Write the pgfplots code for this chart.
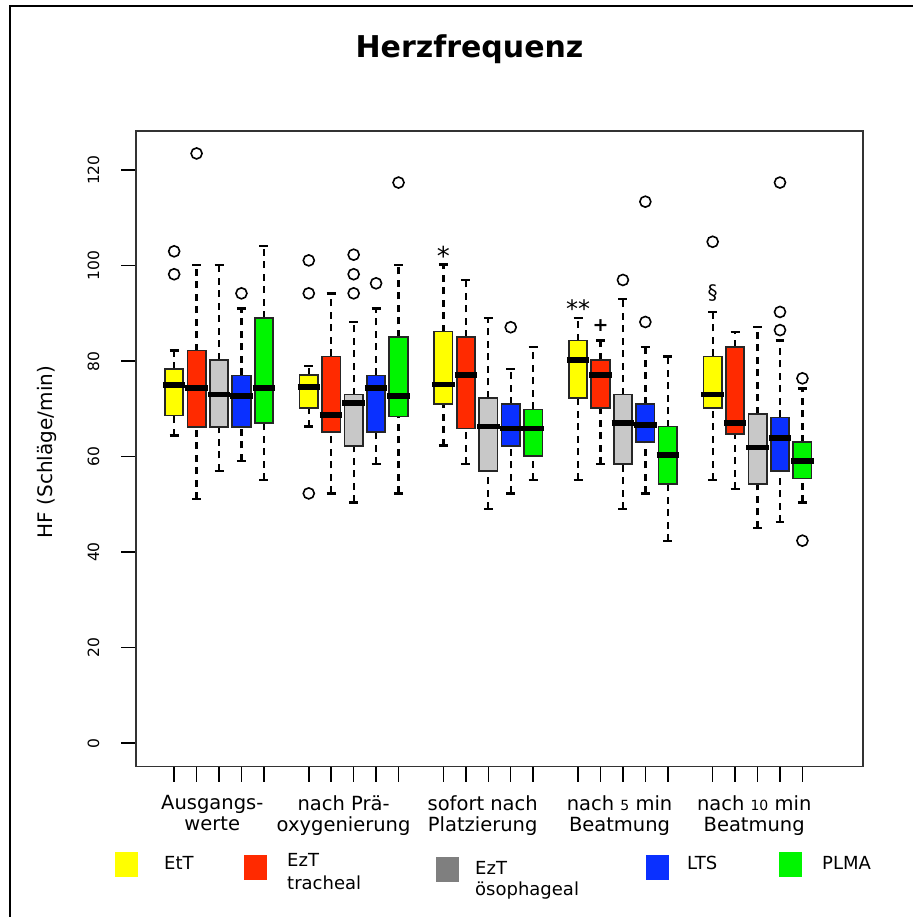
\documentclass[border=0pt]{standalone}
\usepackage{fontspec}
\setmainfont{DejaVu Sans}
\usepackage{pgfplots}
\pgfplotsset{compat=1.18}
\definecolor{cyel}{HTML}{FFFF00}
\definecolor{cred}{HTML}{FF2A00}
\definecolor{cgray}{HTML}{C8C8C8}
\definecolor{cgraydark}{HTML}{7F7F7F}
\definecolor{cblue}{HTML}{0A30FF}
\definecolor{cgreen}{HTML}{00F500}
\definecolor{frame}{HTML}{333333}
\pgfplotsset{
  whisk/.style={black, line width=2.3pt, dash pattern=on 7pt off 5.5pt, no markers},
  cap/.style={black, line width=2.4pt, no markers},
  bx/.style={fill=#1, draw=black!85, line width=1.7pt, line join=miter, line cap=rect, no markers},
  med/.style={black, line width=5.8pt, no markers},
  outl/.style={only marks, mark=o, mark size=5.5pt, mark options={black, line width=1.6pt}},
}
\begin{document}
\begin{tikzpicture}[x=1pt,y=1pt]
\path[use as bounding box] (0,0) rectangle (913,-917);
\draw[line width=2pt] (10,-917) -- (10,-6) -- (913,-6);
\node[font=\bfseries\fontsize{30}{36}\selectfont, anchor=base] at (469.5,-58) {Herzfrequenz};
\node[rotate=90, font=\fontsize{20}{20}\selectfont] at (47,-452) {HF (Schläge/min)};
\begin{axis}[
  at={(136pt,-766.7pt)}, anchor=south west,
  scale only axis, width=727pt, height=635.7pt,
  xmin=-0.7, xmax=31.7, ymin=-4.94, ymax=128.2,
  unbounded coords=jump,
  axis line style={draw=frame, line width=1.5pt},
  tick style={black, line width=1.5pt},
  tick align=outside, major tick length=15pt,
  tick pos=left,
  xtick={1,2,3,4,5,7,8,9,10,11,13,14,15,16,17,19,20,21,22,23,25,26,27,28,29},
  xticklabels={},
  ytick={0,20,40,60,80,100,120},
  /pgf/number format/assume math mode=true,
  yticklabel style={xshift=-18pt, rotate=90, anchor=south, font=\fontsize{15.5}{15.5}\selectfont},
  extra x ticks={2.7,8.55,14.75,20.85,26.85},
  extra x tick labels={{Ausgangs-\\werte},{nach Prä-\\oxygenierung},{sofort nach\\Platzierung},{nach {\fontsize{14}{14}\selectfont 5} min\\Beatmung},{nach {\fontsize{14}{14}\selectfont 10} min\\Beatmung}},
  extra x tick style={major tick length=0pt, xticklabel style={align=center, font=\fontsize{19.5}{21.5}\selectfont, yshift=-25pt}},
  clip=false,
]
% ===== Group 1: Ausgangswerte =====
% EtT
\addplot[whisk] coordinates {(1,64.4)(1,68.6)(1,nan)(1,78.3)(1,82.2)};
\addplot[cap] coordinates {(0.8,64.4)(1.2,64.4)(1,nan)(0.8,82.2)(1.2,82.2)};
\addplot[bx=cyel] coordinates {(0.59,68.6)(1.41,68.6)(1.41,78.3)(0.59,78.3)(0.59,68.6)};
\addplot[med] coordinates {(0.5,75.0)(1.5,75.0)};
\addplot[outl] coordinates {(1,103.0)(1,98.2)};
% EzT tracheal
\addplot[whisk] coordinates {(2,51.1)(2,66.2)(2,nan)(2,82.2)(2,100.1)};
\addplot[cap] coordinates {(1.8,51.1)(2.2,51.1)(2,nan)(1.8,100.1)(2.2,100.1)};
\addplot[bx=cred] coordinates {(1.59,66.2)(2.41,66.2)(2.41,82.2)(1.59,82.2)(1.59,66.2)};
\addplot[med] coordinates {(1.5,74.3)(2.5,74.3)};
\addplot[outl] coordinates {(2,123.5)};
% EzT oesophageal
\addplot[whisk] coordinates {(3,57.0)(3,66.2)(3,nan)(3,80.3)(3,100.1)};
\addplot[cap] coordinates {(2.8,57.0)(3.2,57.0)(3,nan)(2.8,100.1)(3.2,100.1)};
\addplot[bx=cgray] coordinates {(2.59,66.2)(3.41,66.2)(3.41,80.3)(2.59,80.3)(2.59,66.2)};
\addplot[med] coordinates {(2.5,73.0)(3.5,73.0)};
% LTS
\addplot[whisk] coordinates {(4,59.1)(4,66.2)(4,nan)(4,77.0)(4,91.0)};
\addplot[cap] coordinates {(3.8,59.1)(4.2,59.1)(4,nan)(3.8,91.0)(4.2,91.0)};
\addplot[bx=cblue] coordinates {(3.59,66.2)(4.41,66.2)(4.41,77.0)(3.59,77.0)(3.59,66.2)};
\addplot[med] coordinates {(3.5,72.7)(4.5,72.7)};
\addplot[outl] coordinates {(4,94.2)};
% PLMA
\addplot[whisk] coordinates {(5,55.1)(5,67.0)(5,nan)(5,89.0)(5,104.1)};
\addplot[cap] coordinates {(4.8,55.1)(5.2,55.1)(5,nan)(4.8,104.1)(5.2,104.1)};
\addplot[bx=cgreen] coordinates {(4.59,67.0)(5.41,67.0)(5.41,89.0)(4.59,89.0)(4.59,67.0)};
\addplot[med] coordinates {(4.5,74.3)(5.5,74.3)};
% ===== Group 2: nach Praeoxygenierung =====
\addplot[whisk] coordinates {(7,66.3)(7,70.2)(7,nan)(7,77.1)(7,79.0)};
\addplot[cap] coordinates {(6.8,66.3)(7.2,66.3)(7,nan)(6.8,79.0)(7.2,79.0)};
\addplot[bx=cyel] coordinates {(6.59,70.2)(7.41,70.2)(7.41,77.1)(6.59,77.1)(6.59,70.2)};
\addplot[med] coordinates {(6.5,74.6)(7.5,74.6)};
\addplot[outl] coordinates {(7,101.1)(7,94.2)(7,52.3)};
\addplot[whisk] coordinates {(8,52.3)(8,65.1)(8,nan)(8,81.0)(8,94.2)};
\addplot[cap] coordinates {(7.8,52.3)(8.2,52.3)(8,nan)(7.8,94.2)(8.2,94.2)};
\addplot[bx=cred] coordinates {(7.59,65.1)(8.41,65.1)(8.41,81.0)(7.59,81.0)(7.59,65.1)};
\addplot[med] coordinates {(7.5,68.7)(8.5,68.7)};
\addplot[whisk] coordinates {(9,50.4)(9,62.3)(9,nan)(9,73.0)(9,88.2)};
\addplot[cap] coordinates {(8.8,50.4)(9.2,50.4)(9,nan)(8.8,88.2)(9.2,88.2)};
\addplot[bx=cgray] coordinates {(8.59,62.3)(9.41,62.3)(9.41,73.0)(8.59,73.0)(8.59,62.3)};
\addplot[med] coordinates {(8.5,71.3)(9.5,71.3)};
\addplot[outl] coordinates {(9,102.3)(9,98.2)(9,94.2)};
\addplot[whisk] coordinates {(10,58.4)(10,65.1)(10,nan)(10,77.0)(10,91.0)};
\addplot[cap] coordinates {(9.8,58.4)(10.2,58.4)(10,nan)(9.8,91.0)(10.2,91.0)};
\addplot[bx=cblue] coordinates {(9.59,65.1)(10.41,65.1)(10.41,77.0)(9.59,77.0)(9.59,65.1)};
\addplot[med] coordinates {(9.5,74.3)(10.5,74.3)};
\addplot[outl] coordinates {(10,96.3)};
\addplot[whisk] coordinates {(11,52.3)(11,68.4)(11,nan)(11,85.1)(11,100.1)};
\addplot[cap] coordinates {(10.8,52.3)(11.2,52.3)(11,nan)(10.8,100.1)(11.2,100.1)};
\addplot[bx=cgreen] coordinates {(10.59,68.4)(11.41,68.4)(11.41,85.1)(10.59,85.1)(10.59,68.4)};
\addplot[med] coordinates {(10.5,72.7)(11.5,72.7)};
\addplot[outl] coordinates {(11,117.4)};
% ===== Group 3: sofort nach Platzierung =====
\addplot[whisk] coordinates {(13,62.3)(13,71.0)(13,nan)(13,86.2)(13,100.2)};
\addplot[cap] coordinates {(12.8,62.3)(13.2,62.3)(13,nan)(12.8,100.2)(13.2,100.2)};
\addplot[bx=cyel] coordinates {(12.59,71.0)(13.41,71.0)(13.41,86.2)(12.59,86.2)(12.59,71.0)};
\addplot[med] coordinates {(12.5,75.1)(13.5,75.1)};
\addplot[whisk] coordinates {(14,58.4)(14,65.9)(14,nan)(14,85.0)(14,97.0)};
\addplot[cap] coordinates {(13.8,58.4)(14.2,58.4)(14,nan)(13.8,97.0)(14.2,97.0)};
\addplot[bx=cred] coordinates {(13.59,65.9)(14.41,65.9)(14.41,85.0)(13.59,85.0)(13.59,65.9)};
\addplot[med] coordinates {(13.5,77.1)(14.5,77.1)};
\addplot[whisk] coordinates {(15,49.0)(15,57.0)(15,nan)(15,72.3)(15,89.0)};
\addplot[cap] coordinates {(14.8,49.0)(15.2,49.0)(15,nan)(14.8,89.0)(15.2,89.0)};
\addplot[bx=cgray] coordinates {(14.59,57.0)(15.41,57.0)(15.41,72.3)(14.59,72.3)(14.59,57.0)};
\addplot[med] coordinates {(14.5,66.3)(15.5,66.3)};
\addplot[whisk] coordinates {(16,52.3)(16,62.3)(16,nan)(16,71.0)(16,78.3)};
\addplot[cap] coordinates {(15.8,52.3)(16.2,52.3)(16,nan)(15.8,78.3)(16.2,78.3)};
\addplot[bx=cblue] coordinates {(15.59,62.3)(16.41,62.3)(16.41,71.0)(15.59,71.0)(15.59,62.3)};
\addplot[med] coordinates {(15.5,65.9)(16.5,65.9)};
\addplot[outl] coordinates {(16,87.1)};
\addplot[whisk] coordinates {(17,55.1)(17,60.2)(17,nan)(17,69.9)(17,83.0)};
\addplot[cap] coordinates {(16.8,55.1)(17.2,55.1)(17,nan)(16.8,83.0)(17.2,83.0)};
\addplot[bx=cgreen] coordinates {(16.59,60.2)(17.41,60.2)(17.41,69.9)(16.59,69.9)(16.59,60.2)};
\addplot[med] coordinates {(16.5,65.9)(17.5,65.9)};
% ===== Group 4: nach 5 min Beatmung =====
\addplot[whisk] coordinates {(19,55.1)(19,72.3)(19,nan)(19,84.3)(19,89.0)};
\addplot[cap] coordinates {(18.8,55.1)(19.2,55.1)(19,nan)(18.8,89.0)(19.2,89.0)};
\addplot[bx=cyel] coordinates {(18.59,72.3)(19.41,72.3)(19.41,84.3)(18.59,84.3)(18.59,72.3)};
\addplot[med] coordinates {(18.5,80.2)(19.5,80.2)};
\addplot[whisk] coordinates {(20,58.4)(20,70.2)(20,nan)(20,80.3)(20,84.3)};
\addplot[cap] coordinates {(19.8,58.4)(20.2,58.4)(20,nan)(19.8,84.3)(20.2,84.3)};
\addplot[bx=cred] coordinates {(19.59,70.2)(20.41,70.2)(20.41,80.3)(19.59,80.3)(19.59,70.2)};
\addplot[med] coordinates {(19.5,77.1)(20.5,77.1)};
\addplot[whisk] coordinates {(21,49.0)(21,58.4)(21,nan)(21,73.0)(21,93.0)};
\addplot[cap] coordinates {(20.8,49.0)(21.2,49.0)(21,nan)(20.8,93.0)(21.2,93.0)};
\addplot[bx=cgray] coordinates {(20.59,58.4)(21.41,58.4)(21.41,73.0)(20.59,73.0)(20.59,58.4)};
\addplot[med] coordinates {(20.5,67.1)(21.5,67.1)};
\addplot[outl] coordinates {(21,97.0)};
\addplot[whisk] coordinates {(22,52.3)(22,63.1)(22,nan)(22,71.0)(22,83.0)};
\addplot[cap] coordinates {(21.8,52.3)(22.2,52.3)(22,nan)(21.8,83.0)(22.2,83.0)};
\addplot[bx=cblue] coordinates {(21.59,63.1)(22.41,63.1)(22.41,71.0)(21.59,71.0)(21.59,63.1)};
\addplot[med] coordinates {(21.5,66.7)(22.5,66.7)};
\addplot[outl] coordinates {(22,88.2)(22,113.4)};
\addplot[whisk] coordinates {(23,42.3)(23,54.2)(23,nan)(23,66.3)(23,81.0)};
\addplot[cap] coordinates {(22.8,42.3)(23.2,42.3)(23,nan)(22.8,81.0)(23.2,81.0)};
\addplot[bx=cgreen] coordinates {(22.59,54.2)(23.41,54.2)(23.41,66.3)(22.59,66.3)(22.59,54.2)};
\addplot[med] coordinates {(22.5,60.3)(23.5,60.3)};
% ===== Group 5: nach 10 min Beatmung =====
\addplot[whisk] coordinates {(25,55.1)(25,70.2)(25,nan)(25,81.0)(25,90.3)};
\addplot[cap] coordinates {(24.8,55.1)(25.2,55.1)(25,nan)(24.8,90.3)(25.2,90.3)};
\addplot[bx=cyel] coordinates {(24.59,70.2)(25.41,70.2)(25.41,81.0)(24.59,81.0)(24.59,70.2)};
\addplot[med] coordinates {(24.5,73.0)(25.5,73.0)};
\addplot[outl] coordinates {(25,105.0)};
\addplot[whisk] coordinates {(26,53.2)(26,64.7)(26,nan)(26,83.0)(26,86.1)};
\addplot[cap] coordinates {(25.8,53.2)(26.2,53.2)(26,nan)(25.8,86.1)(26.2,86.1)};
\addplot[bx=cred] coordinates {(25.59,64.7)(26.41,64.7)(26.41,83.0)(25.59,83.0)(25.59,64.7)};
\addplot[med] coordinates {(25.5,67.1)(26.5,67.1)};
\addplot[whisk] coordinates {(27,45.1)(27,54.2)(27,nan)(27,69.0)(27,87.1)};
\addplot[cap] coordinates {(26.8,45.1)(27.2,45.1)(27,nan)(26.8,87.1)(27.2,87.1)};
\addplot[bx=cgray] coordinates {(26.59,54.2)(27.41,54.2)(27.41,69.0)(26.59,69.0)(26.59,54.2)};
\addplot[med] coordinates {(26.5,61.9)(27.5,61.9)};
\addplot[whisk] coordinates {(28,46.3)(28,57.0)(28,nan)(28,68.2)(28,84.3)};
\addplot[cap] coordinates {(27.8,46.3)(28.2,46.3)(28,nan)(27.8,84.3)(28.2,84.3)};
\addplot[bx=cblue] coordinates {(27.59,57.0)(28.41,57.0)(28.41,68.2)(27.59,68.2)(27.59,57.0)};
\addplot[med] coordinates {(27.5,63.9)(28.5,63.9)};
\addplot[outl] coordinates {(28,86.5)(28,90.3)(28,117.4)};
\addplot[whisk] coordinates {(29,50.4)(29,55.4)(29,nan)(29,63.0)(29,74.3)};
\addplot[cap] coordinates {(28.8,50.4)(29.2,50.4)(29,nan)(28.8,74.3)(29.2,74.3)};
\addplot[bx=cgreen] coordinates {(28.59,55.4)(29.41,55.4)(29.41,63.0)(28.59,63.0)(28.59,55.4)};
\addplot[med] coordinates {(28.5,59.1)(29.5,59.1)};
\addplot[outl] coordinates {(29,76.4)(29,42.4)};
% significance marks
\node[font=\fontsize{26}{26}\selectfont] at (axis cs:13,102.0) {*};
\node[font=\fontsize{24}{24}\selectfont] at (axis cs:19,91.0) {**};
\node[font=\bfseries\fontsize{19}{19}\selectfont] at (axis cs:20,87.5) {+};
\node[font=\fontsize{20}{20}\selectfont] at (axis cs:25,94.2) {§};
\end{axis}
% legend
\fill[cyel] (115,-852) rectangle (138,-877);
\fill[cred] (244,-855) rectangle (267,-880);
\fill[cgraydark] (436,-857) rectangle (459,-882);
\fill[cblue] (646,-855) rectangle (669,-880);
\fill[cgreen] (779,-852) rectangle (802,-877);
\begin{scope}[every node/.style={anchor=base west, inner sep=0pt, font=\fontsize{18}{18}\selectfont}]
\node at (164,-869) {EtT};
\node at (287,-866) {EzT};
\node at (287,-889) {tracheal};
\node at (475,-874) {EzT};
\node at (475,-895) {ösophageal};
\node at (687,-869) {LTS};
\node at (822,-869) {PLMA};
\end{scope}
\end{tikzpicture}
\end{document}
